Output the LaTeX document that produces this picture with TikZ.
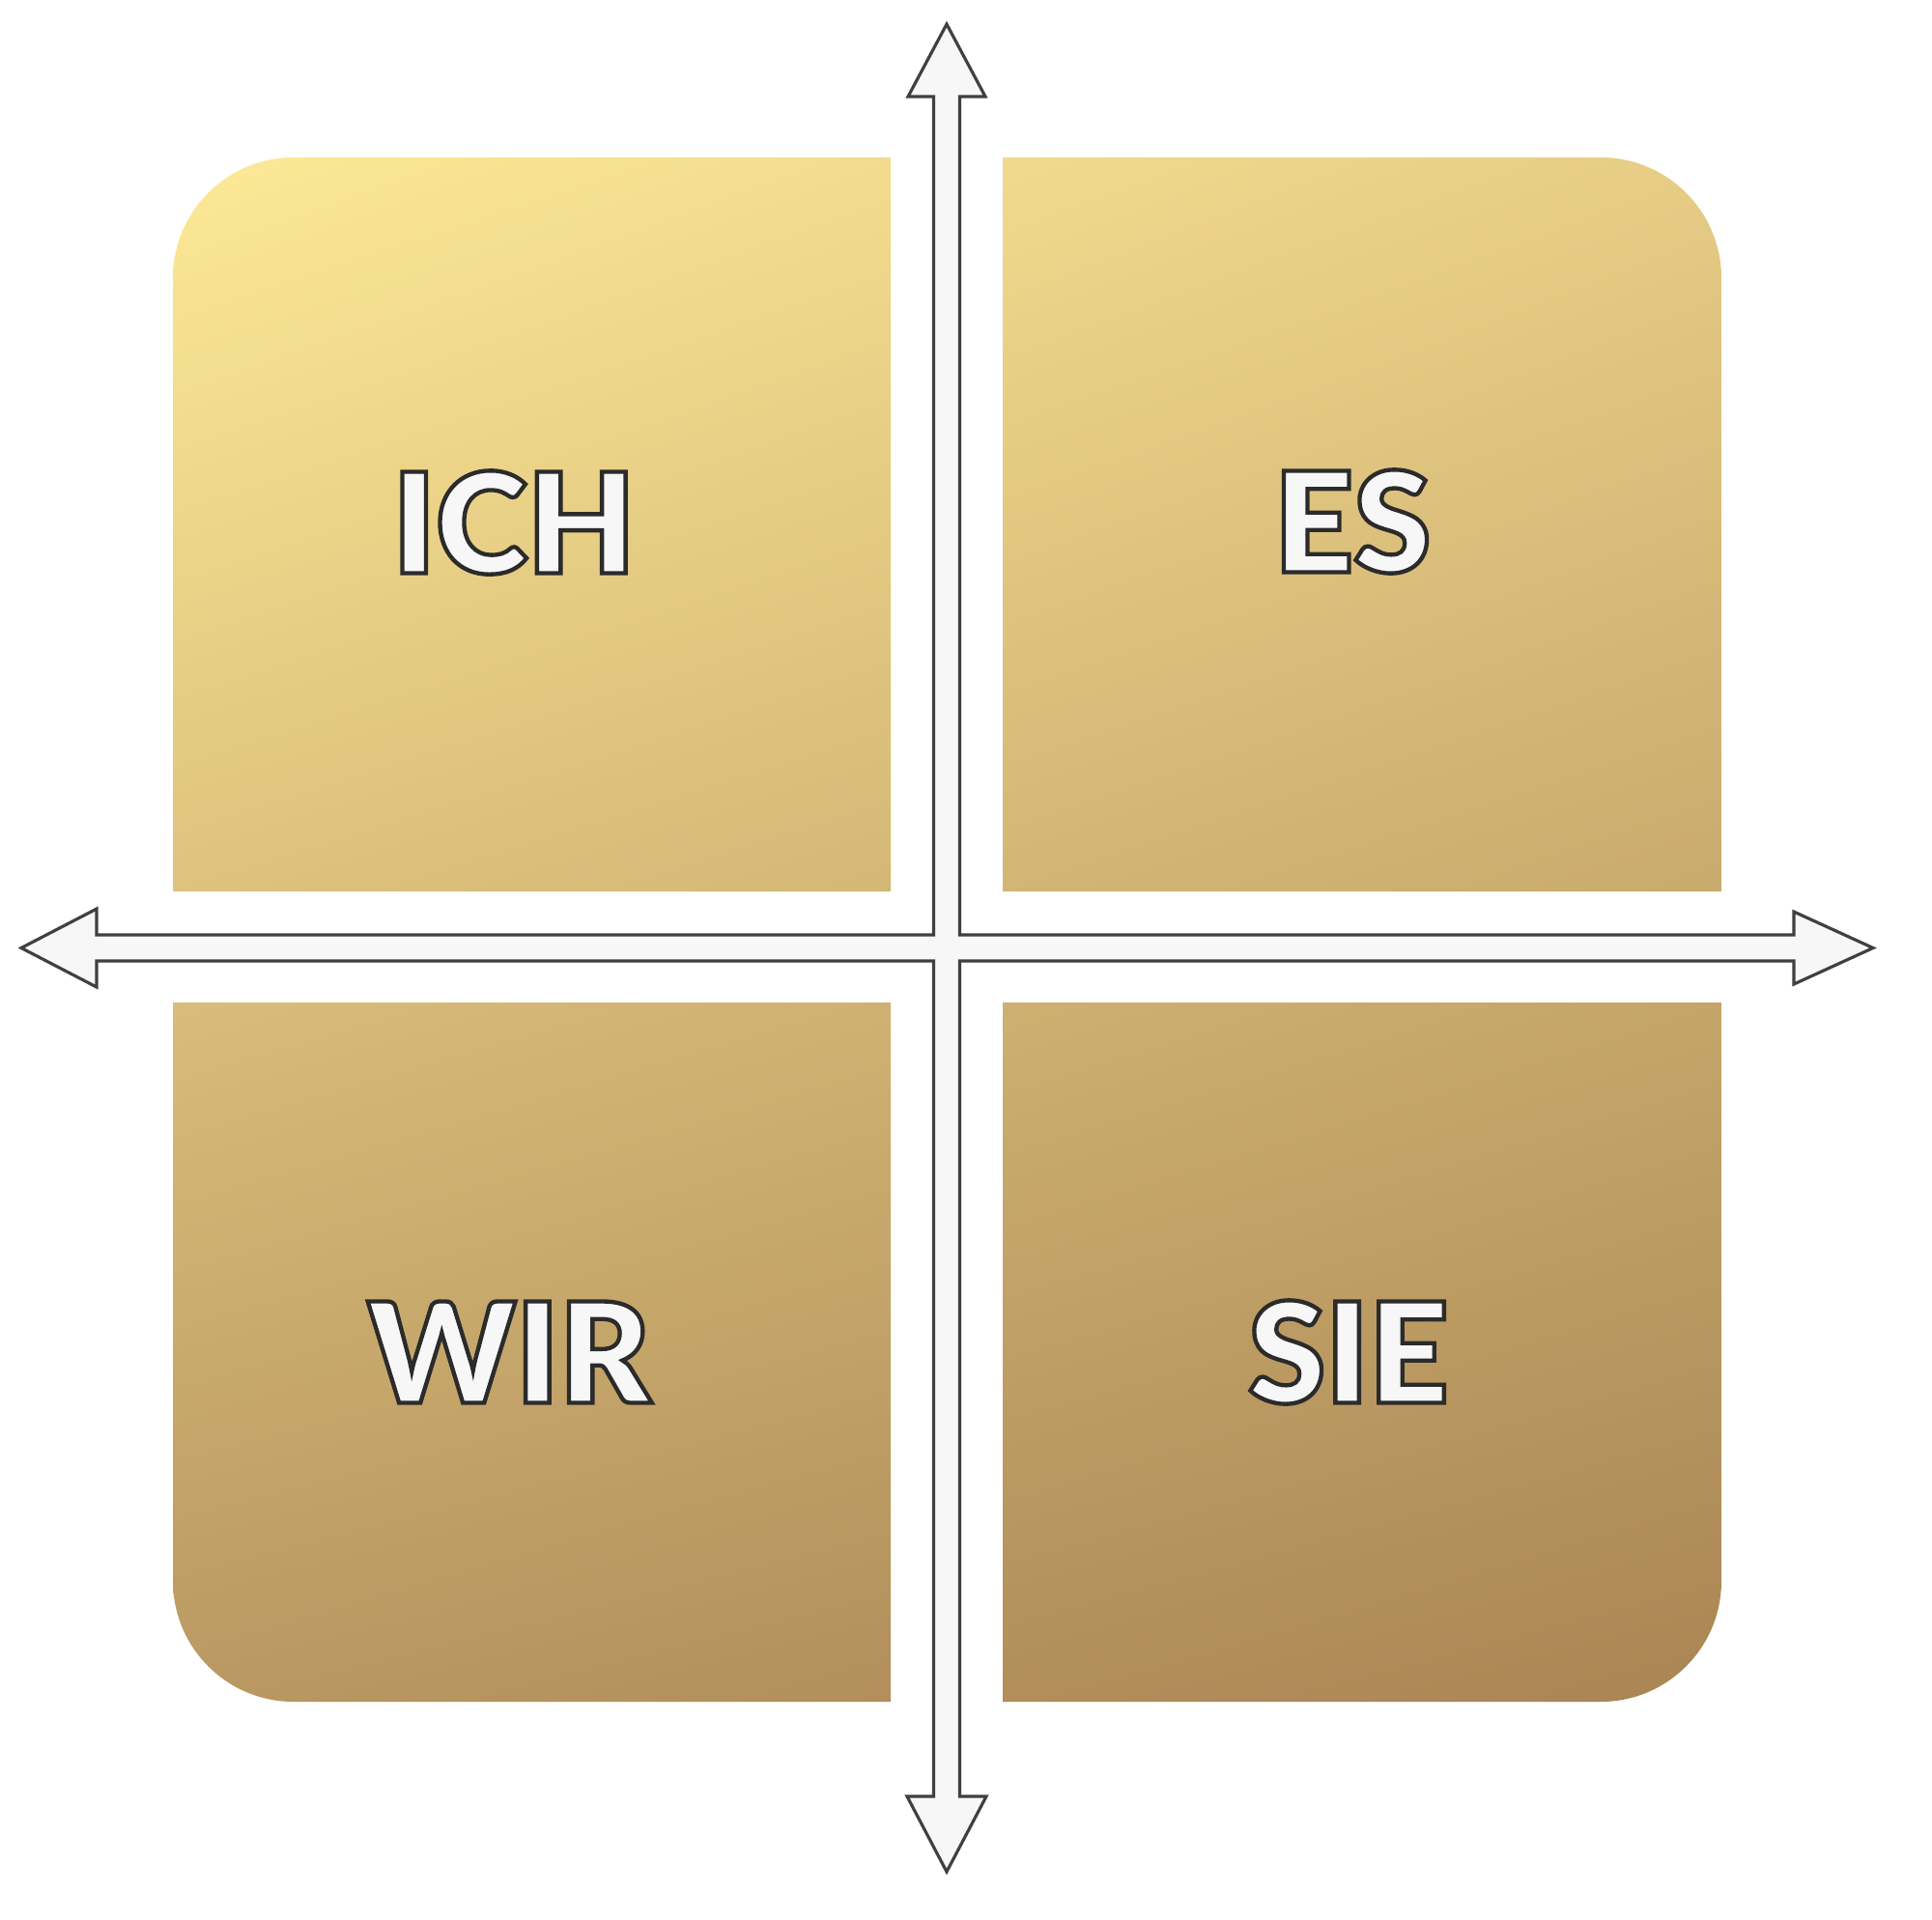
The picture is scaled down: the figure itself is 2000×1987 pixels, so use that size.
\documentclass[tikz,border=0pt]{standalone}
\usepackage{fontspec}
\setmainfont{Lato}
\IfFontExistsTF{Lato Black}
  {\newfontfamily\wordfont{Lato Black}[FakeBold=3]\def\wordweight{}}
  {\newfontfamily\wordfont{Lato}[BoldFeatures={FakeBold=3}]\def\wordweight{\bfseries}}
\usepackage{tikz}
\usetikzlibrary{shadings}
\definecolor{goldUL}{HTML}{FDE996}
\definecolor{goldUR}{HTML}{E6CC85}
\definecolor{goldLL}{HTML}{BA9862}
\definecolor{goldLR}{HTML}{A98553}
\definecolor{axisline}{HTML}{404040}
\definecolor{axisfill}{HTML}{F7F7F7}
\newcommand{\quadword}[1]{\textcolor{axisfill}{\special{pdf:literal direct 0.17 G}#1}}

\begin{document}
\begin{tikzpicture}[x=0.01cm,y=-0.01cm,
  word/.style={inner sep=0pt,font=\wordfont\fontsize{41}{42}\selectfont\wordweight}]
\useasboundingbox (0,0) rectangle (2000,1987);
\begin{scope}
\clip[rounded corners=1.25cm] (179,163) rectangle (922,923) (1038,163) rectangle (1782,923)
  (179,1038) rectangle (922,1762) (1038,1038) rectangle (1782,1762)
  [sharp corners] (500,163) rectangle (922,923) (179,550) rectangle (922,923)
  (1038,163) rectangle (1400,923) (1038,550) rectangle (1782,923)
  (179,1038) rectangle (922,1400) (550,1038) rectangle (922,1762)
  (1038,1038) rectangle (1782,1400) (1038,1038) rectangle (1400,1762);
\shade[upper left=goldUL,upper right=goldUR,lower left=goldLL,lower right=goldLR]
  (179,163) rectangle (1782,1762);
\end{scope}
\coordinate (top) at (980,25);
\coordinate (bottom) at (980,1938);
\coordinate (left) at (22,981.5);
\coordinate (right) at (1939,981.5);
\draw[axisline,fill=axisfill,line width=0.9pt,line join=miter]
  (top) -- (1020,100) -- (993.5,100) -- (993.5,968) -- (1857,968) -- (1857,944)
  -- (right) -- (1857,1019) -- (1857,995) -- (993.5,995) -- (993.5,1860) -- (1021,1860)
  -- (bottom) -- (939,1860) -- (966.5,1860) -- (966.5,995) -- (100,995) -- (100,1022)
  -- (left) -- (100,941) -- (100,968) -- (966.5,968) -- (966.5,100) -- (940,100) -- cycle;
\node[word] (ich) at (532,541) {\quadword{ICH}};
\node[word] (es) at (1400,540) {\quadword{ES}};
\node[word] (wir) at (527,1400) {\quadword{WIR}};
\node[word] (sie) at (1396,1400) {\quadword{SIE}};
\end{tikzpicture}
\end{document}
